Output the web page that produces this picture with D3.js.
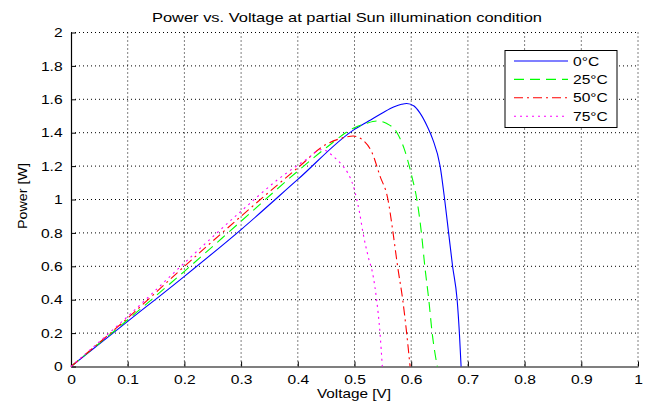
<!DOCTYPE html>
<html>
<head>
<meta charset="utf-8">
<script src="https://cdn.jsdelivr.net/npm/d3@7"></script>
<style>
  body { margin: 0; background: #fff; }
  text { font-family: "Liberation Sans", Arial, sans-serif; fill: #000; }
</style>
</head>
<body>
<script>
// data
var seriesNames = ["0°C", "25°C", "50°C", "75°C"]

var v0  = [0, 0.1, 0.2, 0.3, 0.4, 0.5, 0.525, 0.55, 0.57, 0.583, 0.592, 0.605, 0.615, 0.628, 0.638, 0.651, 0.659, 0.666, 0.673, 0.681, 0.685, 0.688]
var p0  = [0, 0.27, 0.54, 0.82, 1.12, 1.42, 1.47, 1.52, 1.555, 1.57, 1.575, 1.56, 1.52, 1.44, 1.36, 1.2, 1.0, 0.8, 0.6, 0.4, 0.2, 0]

var v25 = [0, 0.1, 0.2, 0.3, 0.4, 0.45, 0.5, 0.52, 0.54, 0.557, 0.575, 0.588, 0.601, 0.61, 0.618, 0.624, 0.631, 0.637, 0.646]
var p25 = [0, 0.28, 0.57, 0.87, 1.17, 1.31, 1.43, 1.455, 1.47, 1.455, 1.40, 1.30, 1.14, 1.0, 0.8, 0.6, 0.4, 0.2, 0]

var v50 = [0, 0.1, 0.2, 0.3, 0.4, 0.45, 0.475, 0.498, 0.513, 0.531, 0.545, 0.559, 0.568, 0.576, 0.585, 0.592, 0.598]
var p50 = [0, 0.29, 0.60, 0.90, 1.19, 1.33, 1.365, 1.38, 1.36, 1.28, 1.14, 1.0, 0.8, 0.6, 0.4, 0.2, 0]

var v75 = [0, 0.1, 0.2, 0.3, 0.365, 0.415, 0.443, 0.462, 0.477, 0.488, 0.498, 0.504, 0.509, 0.515, 0.524, 0.533, 0.539, 0.545, 0.549]
var p75 = [0, 0.30, 0.62, 0.93, 1.12, 1.24, 1.30, 1.26, 1.21, 1.16, 1.08, 1.0, 0.92, 0.80, 0.66, 0.54, 0.40, 0.20, 0]

var xTicks = [0, 0.1, 0.2, 0.3, 0.4, 0.5, 0.6, 0.7, 0.8, 0.9, 1]
var yTicks = [0, 0.2, 0.4, 0.6, 0.8, 1, 1.2, 1.4, 1.6, 1.8, 2]

// line styles (MATLAB-like b-, g--, r-., m:)
var colors = ["#0000ff", "#00ff00", "#ff0000", "#ff00ff"]
var dashes = [null, "10,6", "9,4,2,4", "2,4"]

var series = [[v0, p0], [v25, p25], [v50, p50], [v75, p75]].map(function (s, i) {
  return { name: seriesNames[i], points: s[0].map(function (v, j) { return [v, s[1][j]] }) }
})

var W = 657, H = 405
var margin = { top: 32.5, right: 19, bottom: 38.5, left: 71 },
    width = W - margin.left - margin.right,
    height = H - margin.top - margin.bottom
var stretch = 1.2

var svg = d3.select("body").append("svg")
  .attr("width", W).attr("height", H)
var g = svg.append("g")
  .attr("transform", "translate(" + margin.left + "," + margin.top + ")")

var x = d3.scaleLinear().domain([0, 1]).range([0, width])
var y = d3.scaleLinear().domain([0, 2]).range([height, 0])

// dotted grid
g.append("g").selectAll("line").data(xTicks.slice(1)).enter().append("line")
  .attr("x1", d => x(d)).attr("x2", d => x(d)).attr("y1", 0).attr("y2", height)
  .attr("stroke", "#000").attr("stroke-width", 1).attr("stroke-dasharray", "1,3")
g.append("g").selectAll("line").data(yTicks.slice(1)).enter().append("line")
  .attr("y1", d => y(d)).attr("y2", d => y(d)).attr("x1", 0).attr("x2", width)
  .attr("stroke", "#000").attr("stroke-width", 1).attr("stroke-dasharray", "1,3")

// axes, ticks pointing inward
var xAxis = g.append("g").attr("transform", "translate(0," + height + ")")
  .call(d3.axisBottom(x).tickValues(xTicks).tickFormat(d3.format("")).tickSizeInner(-5).tickSizeOuter(0).tickPadding(10))
var yAxis = g.append("g")
  .call(d3.axisLeft(y).tickValues(yTicks).tickFormat(d3.format("")).tickSizeInner(-5).tickSizeOuter(0).tickPadding(8))

;[xAxis, yAxis].forEach(function (a) {
  a.select(".domain").attr("stroke", "#000").attr("stroke-width", 1.2)
  a.selectAll(".tick line").attr("stroke", "#000")
  a.selectAll(".tick text").attr("font-size", 13).attr("fill", "#222")
    .attr("transform", "scale(" + stretch + ",1)")
  a.attr("font-family", null)
})
xAxis.selectAll(".tick text").attr("dy", "0.55em")
yAxis.selectAll(".tick text").attr("x", -7)

// curves
var line = d3.line()
  .x(d => x(d[0])).y(d => y(d[1]))
  .curve(d3.curveMonotoneX)

g.append("g").selectAll("path").data(series).enter().append("path")
  .attr("d", d => line(d.points))
  .attr("fill", "none")
  .attr("stroke", (d, i) => colors[i])
  .attr("stroke-width", 1.1)
  .attr("stroke-dasharray", (d, i) => dashes[i])

// title and axis labels
svg.append("text")
  .attr("x", 347).attr("y", 22).attr("text-anchor", "middle")
  .attr("font-size", 13).attr("textLength", 390).attr("lengthAdjust", "spacingAndGlyphs")
  .text("Power vs. Voltage at partial Sun illumination condition")

svg.append("text")
  .attr("x", 354).attr("y", 398).attr("text-anchor", "middle")
  .attr("font-size", 13).attr("textLength", 74).attr("lengthAdjust", "spacingAndGlyphs")
  .text("Voltage [V]")

svg.append("text")
  .attr("transform", "translate(27,196) rotate(-90)")
  .attr("text-anchor", "middle")
  .attr("font-size", 13).attr("textLength", 66).attr("lengthAdjust", "spacingAndGlyphs")
  .text("Power [W]")

// legend
var legend = svg.append("g").attr("transform", "translate(505,50.5)")
legend.append("rect")
  .attr("width", 112).attr("height", 77)
  .attr("fill", "#fff").attr("stroke", "#000").attr("stroke-width", 1)

var rows = legend.selectAll("g.row").data(series).enter().append("g")
  .attr("class", "row")
  .attr("transform", (d, i) => "translate(0," + (10.5 + i * 18.4) + ")")
rows.append("line")
  .attr("x1", 9).attr("x2", 63)
  .attr("stroke", (d, i) => colors[i])
  .attr("stroke-width", 1.1)
  .attr("stroke-dasharray", (d, i) => dashes[i])
rows.append("text")
  .attr("transform", "translate(68,0) scale(" + stretch + ",1)")
  .attr("dy", "0.36em")
  .attr("font-size", 13)
  .text(d => d.name)
</script>
</body>
</html>
